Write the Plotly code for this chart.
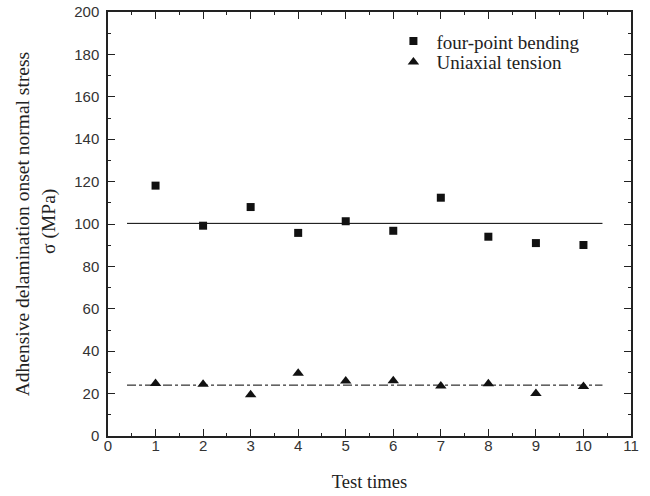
import plotly.graph_objects as go

test_times = [1, 2, 3, 4, 5, 6, 7, 8, 9, 10]
four_point_bending = [118.1, 99.2, 108.0, 95.8, 101.3, 96.8, 112.4, 94.0, 91.0, 90.1]
uniaxial_tension = [24.8, 24.4, 19.5, 29.6, 25.9, 26.1, 23.6, 24.7, 20.0, 23.4]
mean_x = [0.4, 10.4]
bending_mean = 100.3
tension_mean = 24.0

serif = "Liberation Serif, Times New Roman, serif"
sans = "Liberation Sans, Arial, sans-serif"

fig = go.Figure()
fig.add_trace(go.Scatter(x=mean_x, y=[bending_mean, bending_mean], mode="lines",
                         line=dict(color="black", width=1), showlegend=False, hoverinfo="skip"))
fig.add_trace(go.Scatter(x=mean_x, y=[tension_mean, tension_mean], mode="lines",
                         line=dict(color="black", width=1, dash="dashdot"), showlegend=False, hoverinfo="skip"))
fig.add_trace(go.Scatter(x=test_times, y=four_point_bending, mode="markers", name="four-point bending",
                         marker=dict(symbol="square", size=8, color="#111"), legend="legend"))
fig.add_trace(go.Scatter(x=test_times, y=uniaxial_tension, mode="markers", name="Uniaxial tension",
                         marker=dict(symbol="triangle-up", size=10, color="#111"), legend="legend2"))

axis_common = dict(showline=True, linecolor="#222", linewidth=1.5, mirror="allticks",
                   ticks="inside", tickcolor="#222", tickwidth=1.2, ticklen=7,
                   showgrid=False, zeroline=False, automargin=False, ticklabeloverflow="allow",
                   tickfont=dict(family=sans, size=15, color="#333"))

fig.update_xaxes(range=[0, 11], dtick=1, tick0=0, ticklabelstandoff=-5,
                 minor=dict(ticks="inside", dtick=0.5, ticklen=3, tickcolor="#222"),
                 title=dict(text="Test times", font=dict(family=serif, size=18.5, color="#222"), standoff=22),
                 **axis_common)
fig.update_yaxes(range=[0, 200], dtick=20, tick0=0, ticklabelstandoff=4,
                 minor=dict(ticks="inside", dtick=10, ticklen=3, tickcolor="#222"),
                 **axis_common)

fig.add_annotation(text="Adhensive delamination onset normal stress", xref="paper", yref="paper",
                   x=-0.164, y=0.5, showarrow=False, textangle=-90, xanchor="center", yanchor="middle",
                   font=dict(family=serif, size=19.5, color="#222"))
fig.add_annotation(text="σ (MPa)", xref="paper", yref="paper",
                   x=-0.113, y=0.507, showarrow=False, textangle=-90, xanchor="center", yanchor="middle",
                   font=dict(family=serif, size=19.5, color="#222"))

legend_common = dict(xanchor="left", yanchor="middle", bgcolor="rgba(0,0,0,0)",
                     font=dict(family=serif, size=19, color="#222"), itemwidth=36)

fig.update_layout(
    width=650, height=496,
    margin=dict(l=108, r=19, t=12, b=60, autoexpand=False),
    paper_bgcolor="white", plot_bgcolor="white",
    showlegend=True,
    legend=dict(x=0.54, y=0.931, **legend_common),
    legend2=dict(x=0.54, y=0.882, **legend_common),
)

fig.write_html("out.html", config={"displayModeBar": False},
               post_script="document.body.style.margin='0px';")
